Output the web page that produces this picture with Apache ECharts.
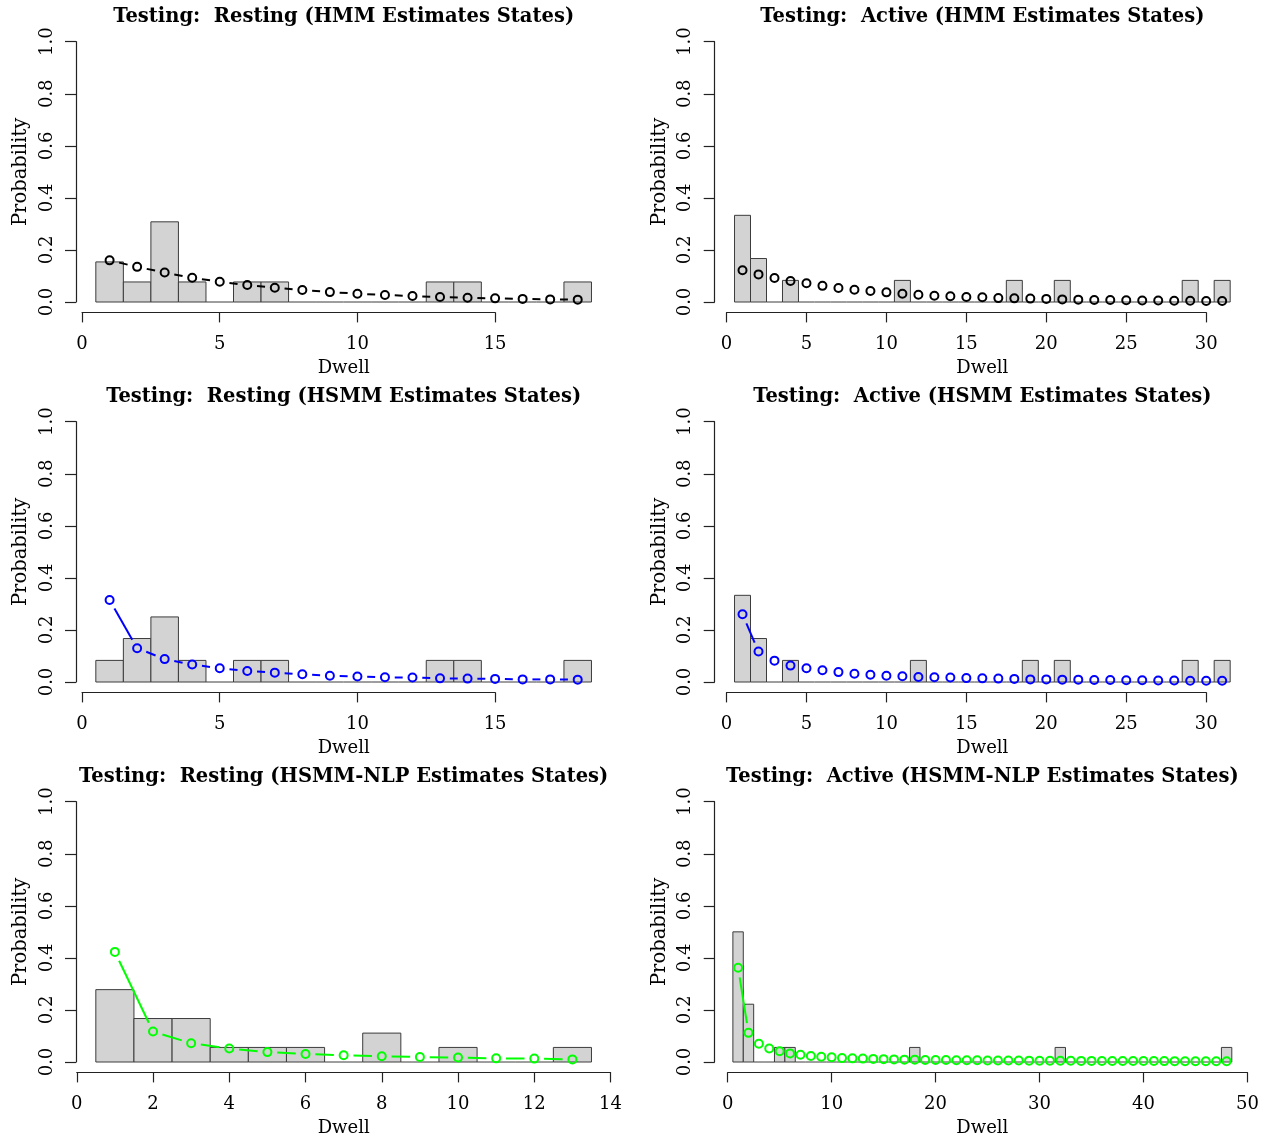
<!DOCTYPE html>
<html>
<head>
<meta charset="utf-8">
<script src="https://cdn.jsdelivr.net/npm/echarts@6/dist/echarts.min.js"></script>
<style>html,body{margin:0;padding:0;background:#fff}#c{width:1268px;height:1141px}</style>
</head>
<body>
<div id="c"></div>
<script>
// ---------- DATA ----------
const titles = [
  'Testing:  Resting (HMM Estimates States)',
  'Testing:  Active (HMM Estimates States)',
  'Testing:  Resting (HSMM Estimates States)',
  'Testing:  Active (HSMM Estimates States)',
  'Testing:  Resting (HSMM-NLP Estimates States)',
  'Testing:  Active (HSMM-NLP Estimates States)'
];
const lineColors = ['#000000', '#000000', '#0000FF', '#0000FF', '#00FF00', '#00FF00'];

// Histogram bin proportions (bins centred on dwell 1..N)
const histRestHMM = [0.154,0.077,0.308,0.077,0,0.077,0.077,0,0,0,0,0,0.077,0.077,0,0,0,0.077];
const histActHMM = [0.333,0.167,0,0.083,0,0,0,0,0,0,0.083,0,0,0,0,0,0,0.083,0,0,0.083,0,0,0,0,0,0,0,0.083,0,0.083];
const histRestHSMM = [0.083,0.167,0.25,0.083,0,0.083,0.083,0,0,0,0,0,0.083,0.083,0,0,0,0.083];
const histActHSMM = [0.333,0.167,0,0.083,0,0,0,0,0,0,0,0.083,0,0,0,0,0,0,0.083,0,0.083,0,0,0,0,0,0,0,0.083,0,0.083];
const histRestNLP = [0.278,0.167,0.167,0.056,0.056,0.056,0,0.111,0,0.056,0,0,0.056];
const histActNLP = [0.5,0.222,0,0,0.056,0.056,0,0,0,0,0,0,0,0,0,0,0,0.056,0,0,0,0,0,0,0,0,0,0,0,0,0,0.056,0,0,0,0,0,0,0,0,0,0,0,0,0,0,0,0.056];

// Estimated dwell probabilities (points at dwell 1..N)
const estRestHMM = [0.160,0.135,0.113,0.093,0.078,0.065,0.055,0.046,0.038,0.032,0.027,0.023,0.019,0.016,0.014,0.012,0.010,0.009];
const estActHMM = [0.122,0.106,0.092,0.081,0.072,0.062,0.054,0.047,0.042,0.037,0.032,0.028,0.024,0.022,0.019,0.018,0.015,0.014,0.013,0.012,0.010,0.009,0.008,0.008,0.007,0.006,0.006,0.005,0.005,0.004,0.004];
const estRestHSMM = [0.315,0.130,0.088,0.067,0.053,0.042,0.036,0.030,0.024,0.021,0.018,0.017,0.014,0.013,0.012,0.010,0.010,0.009];
const estActHSMM = [0.260,0.117,0.082,0.063,0.053,0.045,0.038,0.032,0.028,0.024,0.022,0.019,0.018,0.017,0.015,0.014,0.013,0.012,0.010,0.010,0.009,0.009,0.008,0.008,0.007,0.007,0.006,0.006,0.005,0.005,0.005];
const estRestNLP = [0.423,0.117,0.072,0.052,0.038,0.031,0.026,0.022,0.019,0.017,0.014,0.013,0.010];
const estActNLP = [0.362,0.112,0.070,0.052,0.041,0.033,0.028,0.023,0.020,0.018,0.015,0.014,0.013,0.012,0.011,0.010,0.009,0.009,0.008,0.008,0.0075,0.007,0.0068,0.0065,0.006,0.006,0.0057,0.0055,0.0052,0.005,0.0048,0.0046,0.0045,0.0043,0.0042,0.004,0.0039,0.0038,0.0037,0.0036,0.0035,0.0034,0.0033,0.0032,0.0031,0.003,0.003,0.0029];

// Axis tick settings
const xTickMax = [15, 30, 15, 30, 14, 50];
const xTickStep = [5, 5, 5, 5, 2, 10];
const yTicks = [0, 0.2, 0.4, 0.6, 0.8, 1.0];

// ---------- LAYOUT ----------
const hists = [histRestHMM, histActHMM, histRestHSMM, histActHSMM, histRestNLP, histActNLP];
const ests = [estRestHMM, estActHMM, estRestHSMM, estActHSMM, estRestNLP, estActNLP];
const xRange = [[-0.22, 19.22], [-0.74, 32.74], [-0.22, 19.22], [-0.74, 32.74], [-0.02, 14.02], [-1.25, 50.25]];
const colLeft = [76, 714.7];
const plotW = 535.3;
const unitPx = 260.3;
const FONT = 'DejaVu Serif';
const FS = 18;
const GAP = 9.8;

const chart = echarts.init(document.getElementById('c'), null, {renderer: 'canvas'});
const grid = [], xAxis = [], yAxis = [], series = [], title = [];

function idx(arr) { return arr.map((v, i) => [i + 1, v]); }

function barItem(params, api) {
  const x = api.value(0), v = api.value(1);
  const p0 = api.coord([x - 0.5, 0]);
  const p1 = api.coord([x + 0.5, v]);
  if (v <= 0) {
    return {type: 'line', shape: {x1: p0[0], y1: p0[1], x2: p1[0], y2: p0[1]},
      style: {stroke: '#3c3c3c', lineWidth: 1}};
  }
  return {type: 'rect', shape: {x: p0[0], y: p1[1], width: p1[0] - p0[0], height: p0[1] - p1[1]},
    style: {fill: '#D3D3D3', stroke: '#3c3c3c', lineWidth: 1}};
}

function makeLineItem(ys, color) {
  return function (params, api) {
    const i = params.dataIndex;
    if (i >= ys.length - 1) return {type: 'group', children: []};
    const a = api.coord([i + 1, ys[i]]);
    const b = api.coord([i + 2, ys[i + 1]]);
    const dx = b[0] - a[0], dy = b[1] - a[1];
    const L = Math.hypot(dx, dy);
    if (L <= 2 * GAP) return {type: 'group', children: []};
    const ux = dx / L, uy = dy / L;
    return {type: 'line', shape: {x1: a[0] + ux * GAP, y1: a[1] + uy * GAP, x2: b[0] - ux * GAP, y2: b[1] - uy * GAP},
      style: {stroke: color, lineWidth: 2}};
  };
}

for (let p = 0; p < 6; p++) {
  const c = p % 2, r = Math.floor(p / 2);
  const left = colLeft[c];
  const zeroY = 302 + 380 * r;
  const top = zeroY - 1.04 * unitPx;
  const height = 1.08 * unitPx;
  const [xmin, xmax] = xRange[p];
  const toPx = v => left + (v - xmin) / (xmax - xmin) * plotW;
  const g0 = grid.length;
  grid.push({left: left, top: top, width: plotW, height: height});
  grid.push({left: toPx(0), top: top, width: toPx(xTickMax[p]) - toPx(0), height: height});
  grid.push({left: left, top: zeroY - unitPx, width: plotW, height: unitPx});

  const nameStyle = {fontFamily: FONT, fontSize: FS, color: '#000'};
  xAxis.push({gridIndex: g0, type: 'value', min: xmin, max: xmax, show: true,
    axisLine: {show: false, onZero: false}, axisTick: {show: false}, axisLabel: {show: false}, splitLine: {show: false},
    name: 'Dwell', nameLocation: 'middle', nameGap: 47, nameTextStyle: nameStyle});
  xAxis.push({gridIndex: g0 + 1, type: 'value', min: 0, max: xTickMax[p], interval: xTickStep[p],
    axisLine: {show: true, onZero: false, lineStyle: {color: '#222', width: 1.2}},
    axisTick: {show: true, inside: false, length: 10, lineStyle: {color: '#222', width: 1.2}},
    axisLabel: {show: true, margin: 23, fontFamily: FONT, fontSize: FS, color: '#000'},
    splitLine: {show: false}});
  xAxis.push({gridIndex: g0 + 2, type: 'value', min: xmin, max: xmax, show: false, axisLine: {onZero: false}});

  yAxis.push({gridIndex: g0, type: 'value', min: -0.04, max: 1.04, show: false, axisLine: {onZero: false}});
  yAxis.push({gridIndex: g0 + 1, type: 'value', min: -0.04, max: 1.04, show: false, axisLine: {onZero: false}});
  yAxis.push({gridIndex: g0 + 2, type: 'value', min: yTicks[0], max: yTicks[yTicks.length - 1], interval: 0.2,
    axisLine: {show: true, onZero: false, lineStyle: {color: '#222', width: 1.2}},
    axisTick: {show: true, inside: false, length: 11, lineStyle: {color: '#222', width: 1.2}},
    axisLabel: {show: true, rotate: 90, margin: 20, fontFamily: FONT, fontSize: FS, color: '#000',
      formatter: v => v.toFixed(1)},
    splitLine: {show: false},
    name: 'Probability', nameLocation: 'middle', nameGap: 45, nameRotate: 90,
    nameTextStyle: {fontFamily: FONT, fontSize: 19.5, color: '#000'}});

  series.push({type: 'custom', xAxisIndex: g0, yAxisIndex: g0, renderItem: barItem,
    data: idx(hists[p]), silent: true, z: 1});
  series.push({type: 'custom', xAxisIndex: g0, yAxisIndex: g0, renderItem: makeLineItem(ests[p], lineColors[p]),
    data: idx(ests[p]), silent: true, z: 2});
  series.push({type: 'scatter', xAxisIndex: g0, yAxisIndex: g0, data: idx(ests[p]),
    symbol: 'circle', symbolSize: 8,
    itemStyle: {color: 'rgba(0,0,0,0)', borderColor: lineColors[p], borderWidth: 2, opacity: 1},
    silent: true, z: 3});

  title.push({text: titles[p], left: left + plotW / 2, top: 7 + 380 * r, textAlign: 'center', padding: 0,
    textStyle: {fontFamily: FONT, fontWeight: 'bold', fontSize: 19.5, color: '#000'}});
}

chart.setOption({animation: false, backgroundColor: '#fff', title, grid, xAxis, yAxis, series});
</script>
</body>
</html>
